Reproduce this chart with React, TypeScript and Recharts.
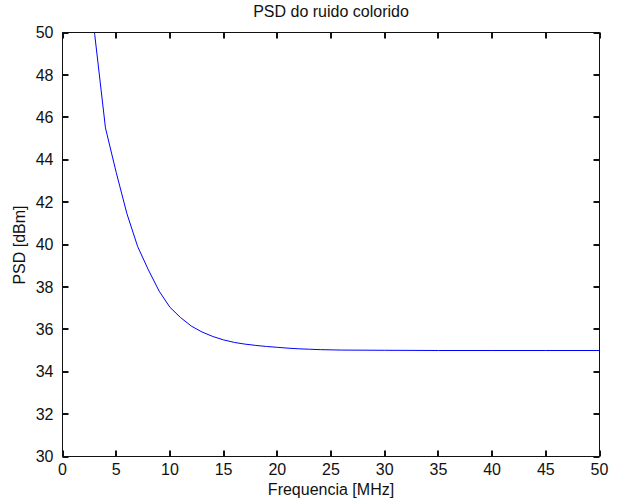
import React from "react";
import { Line, LineChart, XAxis, YAxis } from "recharts";

// values (MHz -> dBm)
const freq = [2, 3, 4, 5, 6, 7, 8, 9, 10, 11, 12, 13, 14, 15, 16, 17, 18, 19, 20, 21, 22, 23, 24, 25, 26, 30, 35, 40, 45, 50];
const psd = [55.2, 49.9, 45.5, 43.4, 41.45, 39.9, 38.8, 37.8, 37.04, 36.55, 36.15, 35.87, 35.66, 35.5, 35.38, 35.3, 35.24, 35.19, 35.15, 35.11, 35.08, 35.06, 35.04, 35.03, 35.02, 35.01, 35.0, 35.0, 35.0, 35.0];

const xTicks = [0, 5, 10, 15, 20, 25, 30, 35, 40, 45, 50];
const yTicks = [30, 32, 34, 36, 38, 40, 42, 44, 46, 48, 50];

const title = "PSD do ruido colorido";
const xLabel = "Frequencia [MHz]";
const yLabel = "PSD [dBm]";

const data = freq.map((f, i) => ({ f, psd: psd[i] }));

const FONT = "'Liberation Sans', Arial, sans-serif";
const AXIS = "#111";
const TICK_LEN = 6;
const TICK_W = 2;

// matlab style: ticks point into the plot, on all four sides
const LeftTick = (props: any) => {
  const { x, y, payload } = props;
  return (
    <g>
      <path d={`M${x},${Math.round(y)}h${TICK_LEN}`} stroke={AXIS} strokeWidth={TICK_W} />
      <text x={x - 9} y={y} dy="0.35em" textAnchor="end" fontSize={16} fontFamily={FONT} fill="#111">
        {payload.value}
      </text>
    </g>
  );
};

const RightTick = (props: any) => {
  const { x, y } = props;
  return <path d={`M${x},${Math.round(y)}h${-TICK_LEN}`} stroke={AXIS} strokeWidth={TICK_W} />;
};

const BottomTick = (props: any) => {
  const { x, y, payload } = props;
  return (
    <g>
      <path d={`M${Math.round(x)},${y}v${-TICK_LEN}`} stroke={AXIS} strokeWidth={TICK_W} />
      <text x={x} y={y + 13} dy="0.35em" textAnchor="middle" fontSize={16} fontFamily={FONT} fill="#111">
        {payload.value}
      </text>
    </g>
  );
};

const TopTick = (props: any) => {
  const { x, y } = props;
  return <path d={`M${Math.round(x)},${y}v${TICK_LEN}`} stroke={AXIS} strokeWidth={TICK_W} />;
};

export default function App() {
  return (
    <div style={{ position: "absolute", left: 0, top: 0, width: 623, height: 504, background: "#fff" }}>
      <LineChart width={623} height={504} data={data} margin={{ top: 30.5, right: 21.5, bottom: 0.5, left: 0.5 }}>
        <XAxis xAxisId="b" dataKey="f" type="number" domain={[0, 50]} ticks={xTicks} allowDataOverflow height={47}
          tickSize={0} tickMargin={0} stroke={AXIS} tick={<BottomTick />} interval={0} />
        <XAxis xAxisId="t" dataKey="f" orientation="top" type="number" domain={[0, 50]} ticks={xTicks} allowDataOverflow
          height={2} tickSize={0} tickMargin={0} stroke={AXIS} tick={<TopTick />} interval={0} />
        <YAxis yAxisId="l" type="number" domain={[30, 50]} ticks={yTicks} allowDataOverflow width={62}
          tickSize={0} tickMargin={0} stroke={AXIS} tick={<LeftTick />} interval={0} />
        <YAxis yAxisId="r" orientation="right" type="number" domain={[30, 50]} ticks={yTicks} allowDataOverflow width={2}
          tickSize={0} tickMargin={0} stroke={AXIS} tick={<RightTick />} interval={0} />
        {/* invisible copy so the top/right frame axes get rendered */}
        <Line xAxisId="t" yAxisId="r" type="linear" dataKey="psd" stroke="none" dot={false} activeDot={false}
          legendType="none" isAnimationActive={false} />
        <Line xAxisId="b" yAxisId="l" type="linear" dataKey="psd" stroke="#0000ff" strokeWidth={1} dot={false}
          activeDot={false} isAnimationActive={false} />
      </LineChart>
      <div style={{ position: "absolute", left: 62, width: 538, top: 3, textAlign: "center", fontFamily: FONT, fontSize: 16, color: "#111" }}>
        {title}
      </div>
      <div style={{ position: "absolute", left: 62, width: 538, top: 481, textAlign: "center", fontFamily: FONT, fontSize: 16, color: "#111" }}>
        {xLabel}
      </div>
      <div
        style={{
          position: "absolute",
          left: 20,
          top: 245,
          transform: "translate(-50%, -50%) rotate(-90deg)",
          whiteSpace: "nowrap",
          fontFamily: FONT,
          fontSize: 16,
          color: "#111",
        }}
      >
        {yLabel}
      </div>
    </div>
  );
}
